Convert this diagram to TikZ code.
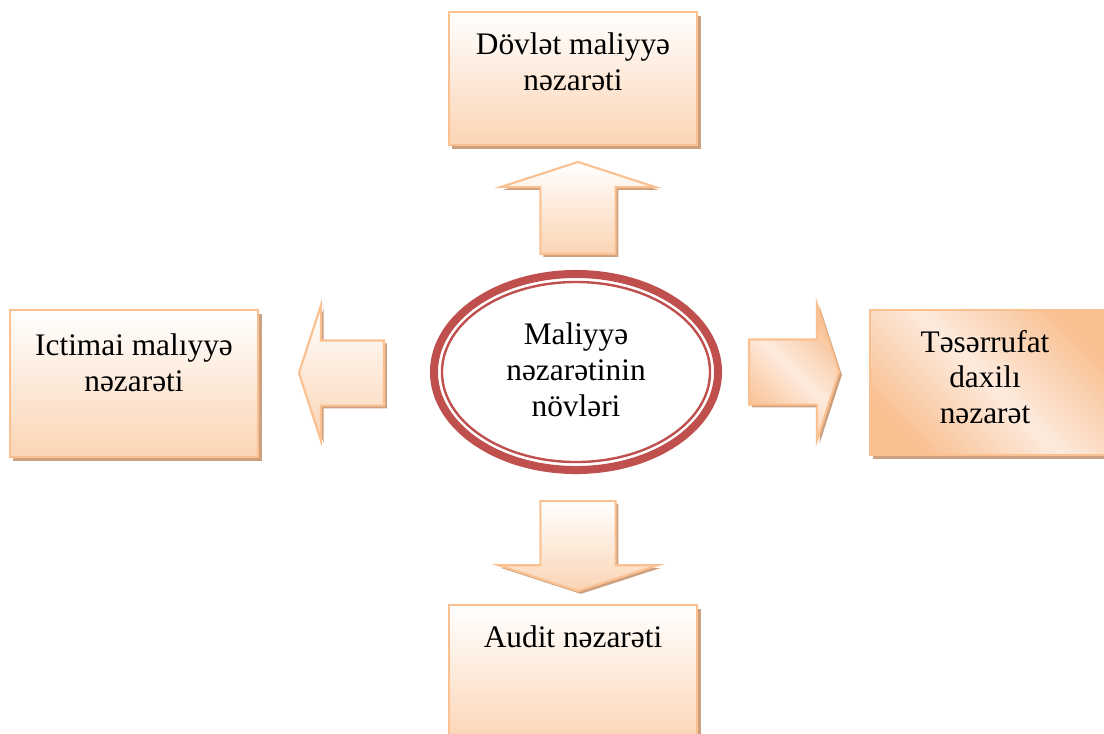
\documentclass[tikz,border=0pt]{standalone}
\usepackage{fontspec}
\setmainfont{Liberation Serif}
\usetikzlibrary{shapes,shapes.arrows,shadows}
\definecolor{boxline}{RGB}{250,192,144}
\definecolor{boxfill}{RGB}{251,212,180}
\definecolor{boxdark}{RGB}{249,192,146}
\definecolor{boxlight}{RGB}{253,235,222}
\definecolor{boxshadow}{RGB}{205,160,128}
\definecolor{ringred}{RGB}{192,80,77}
\tikzstyle{box}=[rectangle,draw=boxline,line width=1.5pt,top color=white,bottom color=boxfill,inner sep=0pt,drop shadow={fill=boxshadow,opacity=1,shadow xshift=2.5pt,shadow yshift=-2.5pt}]
\tikzstyle{diag box} = [box, left color=boxdark, right color=boxdark, middle color=boxlight, shading angle=135]
\tikzstyle{block arrow} = [single arrow,draw=boxline,line width=1.5pt,top color=white,bottom color=boxfill,single arrow tip angle=144,anchor=tail,drop shadow={fill=boxshadow,opacity=1,shadow xshift=2pt,shadow yshift=-2pt}]
\tikzstyle{diag arrow} = [block arrow, left color=boxdark, right color=boxdark, middle color=boxlight, shading angle=135]
\tikzstyle{ring}=[ellipse,draw=ringred,fill=white,line width=0.2cm,inner sep=0pt,minimum width=7.1cm,minimum height=4.9cm]
\tikzstyle{inner ring} = [ellipse, draw=ringred, line width=0.06cm, inner sep=0pt, minimum width=6.7cm, minimum height=4.5cm]
\tikzstyle{lbl}=[align=center,inner sep=0pt,font=\fontsize{22.3pt}{25.5pt}\selectfont]

\begin{document}
\begin{tikzpicture}[x=0.025cm,y=-0.025cm]
    \useasboundingbox (0,0) rectangle (1104,733);
    % First we draw the boxes
    \foreach \pos/\w/\h/\sty/\name in {{(573,78.5)/6.2cm/3.325cm/box/dovlet}, {(134,383.5)/6.2cm/3.675cm/box/ictimai}, {(990,382.5)/6cm/3.625cm/diag box/teserrufat}, {(573,675)/6.2cm/3.5cm/box/audit}}
        \node[\sty,minimum width=\w,minimum height=\h] (\name) at \pos {};

    % Arrows out of the middle
    \foreach \pos/\rot/\len/\half/\ext/\sty/\name in {{(578,255)/90/2.3cm/0.9125cm/1cm/block arrow/upArr}, {(385,373)/180/2.125cm/0.7875cm/0.875cm/block arrow/leftArr}, {(748,372)/0/2.25cm/0.7875cm/0.9cm/diag arrow/rightArr}, {(578,500)/270/2.25cm/0.9125cm/1.05cm/block arrow/downArr}}
        \node[\sty,shape border rotate=\rot,minimum height=\len,inner sep=\half,single arrow head extend=\ext] (\name) at \pos {};

    % The ellipse
    \node[ring] (centre) at (576,372) {};
    \node[inner ring] (centreIn) at (centre.center) {};

    % Texts
    \node[lbl] (centreText) at (576,370) {Maliyyə\\nəzarətinin\\növləri};
    \node[lbl] (dovletText) at (573,62) {Dövlət maliyyə\\nəzarəti};
    \node[lbl] (ictimaiText) at (134,363) {Ictimai malıyyə\\nəzarəti};
    \node[lbl] (teserrufatText) at (985,377) {Təsərrufat\\daxilı\\nəzarət};
    \node[lbl] (auditText) at (573,637) {Audit nəzarəti};
\end{tikzpicture}
\end{document}
